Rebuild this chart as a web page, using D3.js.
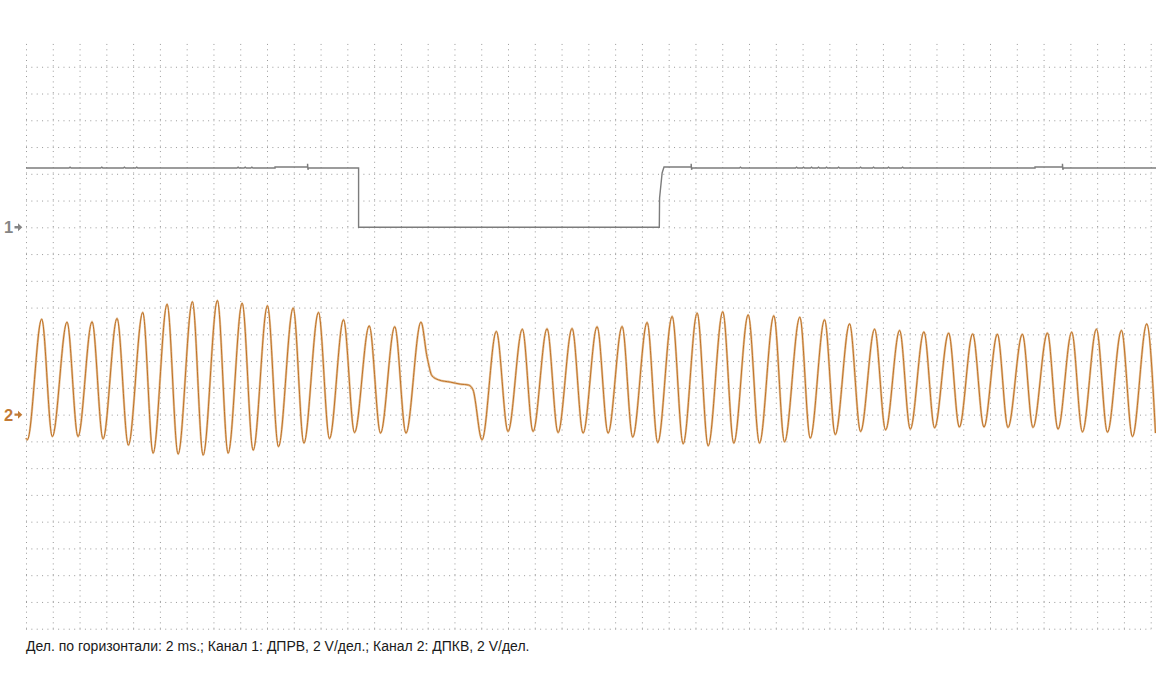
<!DOCTYPE html>
<html>
<head>
<meta charset="utf-8">
<script src="https://cdn.jsdelivr.net/npm/d3@7"></script>
<style>
  html, body { margin: 0; padding: 0; background: #ffffff; }
  svg { display: block; }
</style>
</head>
<body>
<svg id="chart" width="1156" height="700"></svg>
<script>
// ---------- DATA (time in ms, voltage in V) ----------
const caption = "Дел. по горизонтали: 2 ms.; Канал 1: ДПРВ, 2 V/дел.; Канал 2: ДПКВ, 2 V/дел.";
const channelNames = ["1", "2"];
const timePerDiv = 2;   // ms / division
const voltPerDiv = 2;   // V / division
const timeSpan = 84;    // ms across the screen

// Channel 1 (ДПРВ – cam sensor)
const ch1Time = [0, 18.60, 18.60, 21.03, 21.03, 21.06, 21.09, 24.84, 24.84, 47.30, 47.32, 47.51, 47.65,
                 49.68, 49.68, 49.71, 49.74, 75.36, 75.36, 77.41, 77.41, 77.44, 77.47, 84.40];
const ch1Volt = [4.43, 4.43, 4.51, 4.51, 4.75, 4.30, 4.43, 4.43, 0.00, 0.00, 2.19, 4.06, 4.51,
                 4.51, 4.75, 4.30, 4.43, 4.43, 4.51, 4.51, 4.75, 4.30, 4.43, 4.43];
// small 1-sample glitches on the high level of channel 1
const ch1GlitchTime = [3.29, 5.66, 7.35, 8.27, 15.84, 16.37, 16.87,
                       53.36, 57.55, 58.07, 58.67, 59.19, 59.79, 60.69, 62.33, 63.30, 64.42, 65.47];
const ch1GlitchVolt = 4.50;

// Channel 2 (ДПКВ – crank sensor) : extrema and knee points
const ch2Time = [0, 0.10, 1.173, 1.966, 3.064, 3.886, 4.933, 5.755, 6.801, 7.646, 8.722, 9.492,
  10.538, 11.360, 12.429, 13.229, 14.297, 15.097, 16.143, 16.966, 18.034, 18.857, 19.955, 20.755,
  21.846, 22.668, 23.714, 24.537, 25.635, 26.480, 27.541, 28.378, 29.499,
  29.948, 30.321, 30.815, 31.689, 32.436, 33.057, 33.386,
  34.058, 35.127, 36.001, 37.070, 37.870, 38.916, 39.738, 40.785, 41.607, 42.653, 43.475, 44.522,
  45.314, 46.390, 47.183, 48.259, 49.081, 50.127, 50.949, 52.040, 52.862, 53.939, 54.783, 55.852,
  56.652, 57.795, 58.573, 59.641, 60.441, 61.510, 62.332, 63.378, 64.200, 65.247, 66.046, 67.063,
  67.862, 68.909, 69.709, 70.703, 71.547, 72.549, 73.341, 74.417, 75.209, 76.286, 77.078, 78.102,
  78.901, 79.948, 80.770, 81.816, 82.638, 83.707, 84.357];
const ch2Volt = [-1.75, -1.88, 7.14, -1.64, 6.92, -1.64, 6.94, -1.81, 7.19, -2.28, 7.64, -2.88,
  8.26, -2.95, 8.44, -3.03, 8.53, -2.88, 8.34, -2.66, 8.14, -2.39, 7.97, -2.13,
  7.64, -1.79, 7.09, -1.34, 6.64, -1.38, 6.57, -1.38, 6.92,
  4.35, 2.90, 2.60, 2.43, 2.28, 2.21, 1.85,
  -1.88, 6.22, -1.26, 6.39, -1.26, 6.42, -1.34, 6.44, -1.38, 6.57, -1.38, 6.59,
  -1.68, 6.89, -2.09, 7.34, -2.18, 7.59, -2.33, 7.69, -2.13, 7.46, -2.13, 7.39,
  -2.03, 7.29, -1.76, 7.09, -1.49, 6.79, -1.26, 6.39, -1.14, 6.29, -1.08, 6.19,
  -0.99, 6.10, -0.93, 6.04, -0.93, 6.02, -0.96, 6.02, -0.96, 6.10, -1.08, 6.17,
  -1.29, 6.39, -1.31, 6.29, -1.64, 6.79, -1.38];

// ---------- LAYOUT ----------
const plotLeft = 26, plotRight = 1150.7, plotTop = 40, plotBottom = 628.7;
const divsV = 22;                 // vertical divisions on screen
const ch2GroundDiv = 8;           // divisions above the bottom edge
const ch1GroundDiv = 15;

const svg = d3.select("#chart");

const x = d3.scaleLinear().domain([0, timeSpan]).range([plotLeft, plotRight]);
const vMin = -ch2GroundDiv * voltPerDiv, vMax = (divsV - ch2GroundDiv) * voltPerDiv;
const y = d3.scaleLinear().domain([vMin, vMax]).range([plotBottom, plotTop]);
const ch1Offset = (ch1GroundDiv - ch2GroundDiv) * voltPerDiv;

// ---------- GRID (dotted, via axes) ----------
const dotStep = (x(timePerDiv) - x(0)) / 5;
const gridColor = "#999999";

const gx = svg.append("g")
  .attr("transform", `translate(0,${plotBottom})`)
  .call(d3.axisBottom(x)
    .tickValues(d3.range(0, timeSpan + 0.001, timePerDiv))
    .tickSize(-(plotBottom - plotTop - 3))
    .tickFormat(""));
gx.select(".domain").remove();
gx.selectAll(".tick line")
  .attr("stroke", gridColor)
  .attr("stroke-width", 1)
  .attr("stroke-dasharray", `1 ${dotStep - 1}`);

const gy = svg.append("g")
  .attr("transform", `translate(${plotLeft},0)`)
  .call(d3.axisLeft(y)
    .tickValues(d3.range(vMin, vMax - 0.001, voltPerDiv))
    .tickSize(-(plotRight - plotLeft + 0.5))
    .tickFormat(""));
gy.select(".domain").remove();
gy.selectAll(".tick line")
  .attr("stroke", gridColor)
  .attr("stroke-width", 1)
  .attr("stroke-dasharray", `1 ${dotStep - 1}`);

// ---------- CHANNEL 1 ----------
let ch1 = ch1Time.map((t, i) => ({ t, v: ch1Volt[i] }));
ch1GlitchTime.forEach(t => {
  ch1.push({ t: t - 0.08, v: ch1Volt[0] });
  ch1.push({ t: t, v: ch1GlitchVolt });
  ch1.push({ t: t + 0.08, v: ch1Volt[0] });
});
ch1 = ch1.map((d, i) => ({ ...d, i })).sort((a, b) => a.t - b.t || a.i - b.i);

const line1 = d3.line()
  .x(d => x(d.t))
  .y(d => y(d.v + ch1Offset))
  .curve(d3.curveLinear);

svg.append("path")
  .datum(ch1)
  .attr("d", line1)
  .attr("fill", "none")
  .attr("stroke", "#7c7c7c")
  .attr("stroke-width", 1.4);

// ---------- CHANNEL 2 ----------
const ch2 = ch2Time.map((t, i) => ({ t, v: ch2Volt[i] }));
const line2 = d3.line()
  .x(d => x(d.t))
  .y(d => y(d.v))
  .curve(d3.curveMonotoneX);

svg.append("path")
  .datum(ch2)
  .attr("d", line2)
  .attr("fill", "none")
  .attr("stroke", "#e6c39c")
  .attr("stroke-width", 2.3);
svg.append("path")
  .datum(ch2)
  .attr("d", line2)
  .attr("fill", "none")
  .attr("stroke", "#bf7226")
  .attr("stroke-width", 1.0);

// ---------- CHANNEL MARKERS ----------
const markers = [
  { name: channelNames[0], v: ch1Offset, color: "#858585" },
  { name: channelNames[1], v: 0, color: "#c27a35" }
];
markers.forEach(m => {
  const yy = y(m.v);
  svg.append("text")
    .attr("x", 4)
    .attr("y", yy + 6)
    .attr("font-family", "'Liberation Sans', Arial, sans-serif")
    .attr("font-weight", "bold")
    .attr("font-size", 16.5)
    .attr("fill", m.color)
    .text(m.name);
  svg.append("path")
    .attr("d", `M14.5,${yy - 1.2}h3.5v-2.8l4.3,4l-4.3,4v-2.8h-3.5z`)
    .attr("fill", m.color);
});

// ---------- CAPTION ----------
svg.append("text")
  .attr("x", 26)
  .attr("y", 651)
  .attr("font-family", "'Liberation Sans', Arial, sans-serif")
  .attr("font-size", 14)
  .attr("fill", "#1a1a1a")
  .text(caption);
</script>
</body>
</html>
